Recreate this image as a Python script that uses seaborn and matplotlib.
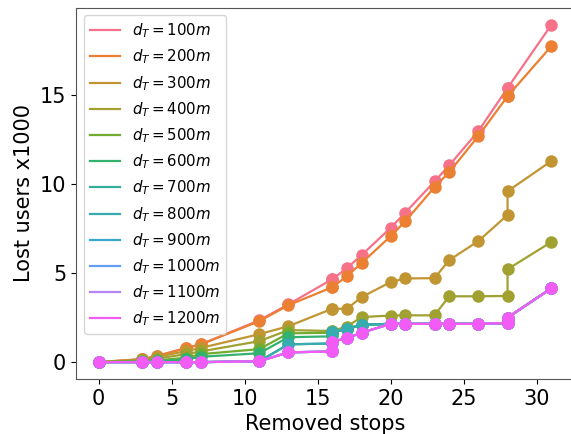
import numpy as np
import pandas as pd
import matplotlib
matplotlib.use("Agg")
import matplotlib.pyplot as plt
from matplotlib.lines import Line2D
import seaborn as sns

# Removed stops (x) -- duplicates give the vertical jumps
stops = [0, 3, 4, 6, 7, 11, 13, 16, 16, 17, 18, 20, 21, 23, 24, 26, 28, 28, 31]

d100 = [0, 0.17, 0.35, 0.80, 1.00, 2.35, 3.25, 4.66, 4.66, 5.28, 6.01, 7.55, 8.40, 10.15, 11.05, 12.98, 15.40, 15.40, 18.95]
d200 = [0, 0.17, 0.34, 0.79, 1.00, 2.30, 3.20, 4.21, 4.21, 4.83, 5.56, 7.08, 7.92, 9.83, 10.67, 12.70, 14.94, 14.94, 17.75]
d300 = [0, 0.15, 0.30, 0.62, 0.80, 1.57, 2.02, 3.00, 3.00, 3.00, 3.65, 4.50, 4.70, 4.72, 5.73, 6.80, 8.27, 9.60, 11.30]
d400 = [0, 0.10, 0.20, 0.45, 0.60, 1.18, 1.80, 1.75, 1.75, 2.00, 2.53, 2.62, 2.63, 2.63, 3.70, 3.70, 3.72, 5.22, 6.75]
d500 = [0, 0.05, 0.10, 0.25, 0.45, 0.73, 1.62, 1.65, 1.68, 1.85, 2.10, 2.15, 2.15, 2.15, 2.15, 2.15, 2.20, 2.50, 4.15]
d600 = [0, 0.03, 0.05, 0.15, 0.30, 0.50, 1.40, 1.45, 1.68, 1.85, 2.10, 2.15, 2.15, 2.15, 2.15, 2.15, 2.20, 2.50, 4.15]
d700 = [0, 0, 0, 0, 0, 0.05, 1.00, 1.05, 1.68, 1.88, 2.10, 2.15, 2.15, 2.15, 2.15, 2.15, 2.20, 2.50, 4.15]
d800 = [0, 0, 0, 0, 0, 0.05, 1.00, 1.05, 1.68, 1.88, 2.10, 2.15, 2.15, 2.15, 2.15, 2.15, 2.20, 2.50, 4.15]
d900 = [0, 0, 0, 0, 0, 0.05, 0.55, 0.60, 1.15, 1.35, 1.65, 2.15, 2.15, 2.15, 2.15, 2.15, 2.20, 2.50, 4.15]
d1000 = [0, 0, 0, 0, 0, 0.05, 0.55, 0.60, 1.15, 1.35, 1.65, 2.15, 2.15, 2.15, 2.15, 2.15, 2.20, 2.50, 4.15]
d1100 = [0, 0, 0, 0, 0, 0.05, 0.55, 0.60, 1.15, 1.35, 1.65, 2.15, 2.15, 2.15, 2.15, 2.15, 2.20, 2.50, 4.15]
d1200 = [0, 0, 0, 0, 0, 0.05, 0.55, 0.60, 1.15, 1.35, 1.65, 2.15, 2.15, 2.15, 2.15, 2.15, 2.20, 2.50, 4.15]

thresholds = [100, 200, 300, 400, 500, 600, 700, 800, 900, 1000, 1100, 1200]
series = [d100, d200, d300, d400, d500, d600, d700, d800, d900, d1000, d1100, d1200]
labels = [r"$d_T=%dm$" % t for t in thresholds]

rows = []
for lab, vals in zip(labels, series):
    for x, y in zip(stops, vals):
        rows.append({"stops": x, "lost": y, "dT": lab})
df = pd.DataFrame(rows)

palette = sns.color_palette("husl", 13)[:12]

fig = plt.figure(figsize=(5.71, 4.34), dpi=100)
ax = fig.add_axes([76 / 571, (434 - 379) / 434, (574 - 76) / 571, (379 - 8) / 434])

sns.lineplot(data=df, x="stops", y="lost", hue="dT", hue_order=labels,
             palette=palette, marker="o",
             markersize=9, markeredgewidth=0, linewidth=1.6,
             estimator=None, sort=True, ax=ax, legend=False)

ax.set_xlim(-1.55, 32.55)
ax.set_xlabel("Removed stops", fontsize=15)
ax.set_ylabel("Lost users x1000", fontsize=15)
ax.tick_params(labelsize=15)
ax.set_xticks([0, 5, 10, 15, 20, 25, 30])
ax.set_yticks([0, 5, 10, 15])
for s in ax.spines.values():
    s.set_color("#555555")
ax.spines["right"].set_visible(False)

handles = [Line2D([], [], color=c, linewidth=1.6) for c in palette]
ax.legend(handles, labels, loc="upper left", fontsize=10.8)

fig.savefig("out.png", dpi=100)
